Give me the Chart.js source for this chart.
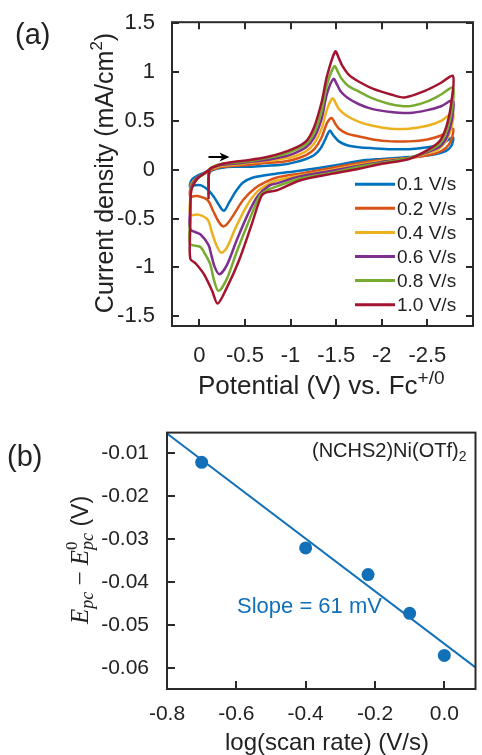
<!DOCTYPE html>
<html>
<head>
<meta charset="utf-8">
<script src="https://cdn.jsdelivr.net/npm/chart.js@4.4.1/dist/chart.umd.min.js"></script>
<style>
html, body { margin: 0; padding: 0; background: #fff; }
body { width: 482px; height: 755px; position: relative; overflow: hidden; }
canvas { position: absolute; left: 0; }
#cvChart { top: 0; width: 482px; height: 410px; }
#slopeChart { top: 410px; width: 482px; height: 345px; }
</style>
</head>
<body>
<canvas id="cvChart" width="482" height="410"></canvas>
<canvas id="slopeChart" width="482" height="345"></canvas>
<script>
// ---- panel (a): cyclic voltammograms, [potential V, current density mA/cm2] ----
const rateLabels = ['0.1 V/s', '0.2 V/s', '0.4 V/s', '0.6 V/s', '0.8 V/s', '1.0 V/s'];
const rateColors = ['#0072BD', '#D95319', '#EDB120', '#7E2F8E', '#77AC30', '#A2142F'];

const cv01 = [[-0.10,-0.10],[-0.11,-0.03],[-0.16,0.00],[-0.25,0.02],[-0.37,0.03],[-0.55,0.03],[-0.74,0.04],[-0.90,0.05],[-1.02,0.07],[-1.17,0.11],[-1.26,0.15],[-1.33,0.22],[-1.38,0.31],[-1.43,0.40],[-1.47,0.35],[-1.53,0.29],[-1.62,0.25],[-1.75,0.23],[-1.90,0.22],[-2.10,0.21],[-2.30,0.21],[-2.50,0.23],[-2.65,0.26],[-2.78,0.33],
  [-2.76,0.24],[-2.70,0.19],[-2.60,0.16],[-2.45,0.14],[-2.30,0.13],[-2.00,0.11],[-1.75,0.09],[-1.46,0.04],[-1.10,-0.01],[-0.85,-0.04],[-0.70,-0.06],[-0.59,-0.08],[-0.48,-0.13],[-0.40,-0.22],[-0.33,-0.33],[-0.27,-0.42],[-0.22,-0.37],[-0.16,-0.28],[-0.10,-0.21],[-0.02,-0.16],[0.05,-0.16],[0.10,-0.18],
  [0.10,-0.14],[0.08,-0.10],[0.02,-0.06],[-0.06,-0.03],[-0.14,0.00]];
const cv02 = [[-0.10,-0.14],[-0.11,-0.02],[-0.17,0.01],[-0.25,0.03],[-0.37,0.04],[-0.55,0.05],[-0.74,0.07],[-0.90,0.08],[-1.02,0.10],[-1.17,0.15],[-1.26,0.21],[-1.34,0.33],[-1.40,0.48],[-1.45,0.53],[-1.49,0.47],[-1.53,0.42],[-1.62,0.37],[-1.75,0.34],[-1.90,0.31],[-2.10,0.29],[-2.30,0.29],[-2.50,0.31],[-2.65,0.35],[-2.78,0.42],
  [-2.76,0.30],[-2.70,0.22],[-2.60,0.17],[-2.45,0.14],[-2.30,0.12],[-2.00,0.10],[-1.75,0.07],[-1.46,0.02],[-1.10,-0.04],[-0.85,-0.08],[-0.74,-0.12],[-0.61,-0.19],[-0.48,-0.31],[-0.37,-0.47],[-0.30,-0.56],[-0.26,-0.58],[-0.21,-0.53],[-0.15,-0.42],[-0.09,-0.31],[0.02,-0.27],[0.10,-0.27],
  [0.10,-0.20],[0.08,-0.13],[0.02,-0.08],[-0.06,-0.04],[-0.14,0.00]];
const cv04 = [[-0.10,-0.18],[-0.11,-0.01],[-0.17,0.02],[-0.25,0.04],[-0.37,0.05],[-0.55,0.07],[-0.74,0.09],[-0.90,0.11],[-1.02,0.13],[-1.17,0.19],[-1.26,0.27],[-1.34,0.42],[-1.40,0.62],[-1.46,0.73],[-1.50,0.67],[-1.53,0.62],[-1.62,0.55],[-1.75,0.49],[-1.90,0.45],[-2.10,0.42],[-2.30,0.42],[-2.50,0.45],[-2.65,0.50],[-2.78,0.58],
  [-2.76,0.42],[-2.70,0.29],[-2.62,0.21],[-2.50,0.17],[-2.30,0.12],[-2.00,0.09],[-1.75,0.05],[-1.46,0.00],[-1.10,-0.06],[-0.85,-0.11],[-0.77,-0.14],[-0.64,-0.22],[-0.52,-0.37],[-0.39,-0.61],[-0.30,-0.80],[-0.24,-0.85],[-0.19,-0.78],[-0.14,-0.65],[-0.09,-0.51],[0.01,-0.46],[0.10,-0.46],
  [0.10,-0.30],[0.09,-0.16],[0.03,-0.09],[-0.05,-0.04],[-0.14,0.01]];
const cv06 = [[-0.10,-0.22],[-0.11,0.00],[-0.17,0.03],[-0.25,0.05],[-0.37,0.06],[-0.55,0.08],[-0.74,0.10],[-0.90,0.13],[-1.02,0.16],[-1.17,0.23],[-1.26,0.33],[-1.34,0.52],[-1.40,0.78],[-1.47,0.93],[-1.51,0.87],[-1.55,0.80],[-1.62,0.74],[-1.75,0.67],[-1.90,0.62],[-2.10,0.59],[-2.30,0.58],[-2.50,0.61],[-2.65,0.65],[-2.78,0.71],
  [-2.77,0.52],[-2.72,0.35],[-2.64,0.24],[-2.50,0.18],[-2.30,0.12],[-2.00,0.08],[-1.75,0.04],[-1.46,-0.01],[-1.10,-0.07],[-0.85,-0.14],[-0.77,-0.16],[-0.64,-0.27],[-0.53,-0.46],[-0.41,-0.72],[-0.30,-0.98],[-0.22,-1.07],[-0.17,-1.00],[-0.13,-0.87],[-0.10,-0.77],[-0.01,-0.66],[0.10,-0.61],
  [0.10,-0.40],[0.09,-0.18],[0.03,-0.09],[-0.05,-0.04],[-0.14,0.02]];
const cv08 = [[-0.10,-0.26],[-0.11,0.00],[-0.17,0.04],[-0.25,0.06],[-0.37,0.07],[-0.55,0.09],[-0.74,0.12],[-0.90,0.15],[-1.02,0.19],[-1.17,0.26],[-1.26,0.38],[-1.34,0.60],[-1.40,0.87],[-1.48,1.06],[-1.52,1.00],[-1.56,0.93],[-1.63,0.86],[-1.75,0.80],[-1.90,0.73],[-2.10,0.67],[-2.30,0.65],[-2.50,0.70],[-2.65,0.77],[-2.78,0.84],
  [-2.77,0.62],[-2.72,0.42],[-2.64,0.27],[-2.50,0.19],[-2.30,0.12],[-2.00,0.07],[-1.75,0.03],[-1.46,-0.03],[-1.10,-0.09],[-0.85,-0.17],[-0.74,-0.21],[-0.66,-0.27],[-0.55,-0.51],[-0.41,-0.84],[-0.30,-1.12],[-0.21,-1.24],[-0.16,-1.13],[-0.12,-0.97],[-0.06,-0.86],[-0.01,-0.79],[0.10,-0.76],
  [0.10,-0.50],[0.09,-0.20],[0.03,-0.10],[-0.05,-0.04],[-0.14,0.02]];
const cv10 = [[-0.10,-0.30],[-0.11,0.00],[-0.16,0.03],[-0.25,0.06],[-0.37,0.08],[-0.55,0.10],[-0.74,0.13],[-0.90,0.17],[-1.02,0.21],[-1.17,0.29],[-1.26,0.44],[-1.34,0.69],[-1.40,0.96],[-1.49,1.21],[-1.53,1.14],[-1.57,1.06],[-1.64,0.97],[-1.75,0.90],[-1.90,0.83],[-2.10,0.77],[-2.25,0.74],[-2.48,0.81],[-2.65,0.89],[-2.78,0.96],
  [-2.77,0.74],[-2.72,0.48],[-2.64,0.30],[-2.50,0.20],[-2.30,0.11],[-2.00,0.06],[-1.75,0.01],[-1.46,-0.04],[-1.10,-0.11],[-0.85,-0.21],[-0.74,-0.23],[-0.68,-0.27],[-0.57,-0.57],[-0.43,-0.94],[-0.30,-1.21],[-0.20,-1.37],[-0.14,-1.24],[-0.05,-1.07],[0.04,-0.96],[0.10,-0.91],
  [0.10,-0.60],[0.09,-0.22],[0.03,-0.10],[-0.05,-0.04],[-0.14,0.02]];
const cvSeries = [cv01, cv02, cv04, cv06, cv08, cv10];

const potentialTicks = [0, -0.5, -1, -1.5, -2, -2.5];
const currentTicks = [1.5, 1, 0.5, 0, -0.5, -1, -1.5];
const scanArrow = [[-0.10, 0.13], [-0.33, 0.13]];

// ---- panel (b): peak shift vs log(scan rate) ----
const logRate = [-0.7, -0.4, -0.22, -0.1, 0.0];
const peakShift = [-0.0121, -0.032, -0.0382, -0.0472, -0.057];
const fitX = [-0.8, 0.09];
const fitY = [-0.0054, -0.0598];
const logTicks = [-0.8, -0.6, -0.4, -0.2, 0.0];
const shiftTicks = [-0.01, -0.02, -0.03, -0.04, -0.05, -0.06];

const SANS = "'Liberation Sans', Arial, sans-serif";
const SERIF = "'Liberation Serif', 'DejaVu Serif', serif";
const INK = '#222';
const AXIS = '#2a2a2a';
const BLUE = '#1270b8';

function runsWidth(ctx, runs) {
  let w = 0;
  runs.forEach(r => { ctx.font = r.f; if (!r.stack) w += ctx.measureText(r.t).width; });
  return w;
}
function drawRuns(ctx, runs, x, y) {
  let cx = x;
  runs.forEach(r => {
    ctx.font = r.f;
    ctx.fillText(r.t, cx, y + (r.dy || 0));
    if (!r.stack) cx += ctx.measureText(r.t).width;
  });
}

// box round the plot with inward tick marks
function framePlugin(tickLen, mirror) {
  return {
    id: 'frame',
    afterDatasetsDraw(chart) {
      const { ctx, chartArea: a, scales } = chart;
      ctx.save();
      ctx.strokeStyle = AXIS;
      ctx.lineWidth = 2;
      ctx.beginPath();
      scales.x.ticks.forEach(t => {
        const px = Math.round(scales.x.getPixelForValue(t.value));
        ctx.moveTo(px, a.bottom); ctx.lineTo(px, a.bottom - tickLen);
        if (mirror) { ctx.moveTo(px, a.top); ctx.lineTo(px, a.top + tickLen); }
      });
      scales.y.ticks.forEach(t => {
        const py = Math.round(scales.y.getPixelForValue(t.value));
        ctx.moveTo(a.left, py); ctx.lineTo(a.left + tickLen, py);
        if (mirror) { ctx.moveTo(a.right, py); ctx.lineTo(a.right - tickLen, py); }
      });
      ctx.stroke();
      ctx.strokeRect(a.left, a.top, a.right - a.left, a.bottom - a.top);
      ctx.restore();
    }
  };
}

const cvDecor = {
  id: 'cvDecor',
  afterDraw(chart) {
    const { ctx, chartArea: a, scales: { x, y } } = chart;
    ctx.save();
    ctx.fillStyle = INK;
    ctx.textAlign = 'left';
    ctx.textBaseline = 'alphabetic';
    ctx.font = `29px ${SANS}`;
    ctx.fillText('(a)', 15, 44);

    // axis titles
    const xRuns = [{ t: 'Potential (V) vs. Fc', f: `26px ${SANS}` }, { t: '+/0', f: `19px ${SANS}`, dy: -10 }];
    drawRuns(ctx, xRuns, 198, 394);
    const yRuns = [{ t: 'Current density (mA/cm', f: `25px ${SANS}` }, { t: '2', f: `17px ${SANS}`, dy: -11 }, { t: ')', f: `25px ${SANS}` }];
    ctx.save();
    ctx.translate(113, 173);
    ctx.rotate(-Math.PI / 2);
    drawRuns(ctx, yRuns, -runsWidth(ctx, yRuns) / 2, 0);
    ctx.restore();

    // legend inside the plot
    ctx.textBaseline = 'middle';
    ctx.font = `19px ${SANS}`;
    chart.data.datasets.forEach((ds, i) => {
      const ly = a.top + 162 + i * 24.1;
      ctx.strokeStyle = ds.borderColor;
      ctx.lineWidth = 3;
      ctx.beginPath();
      ctx.moveTo(a.right - 118, ly);
      ctx.lineTo(a.right - 78, ly);
      ctx.stroke();
      ctx.fillText(ds.label, a.right - 76, ly + 1);
    });

    // scan direction arrow
    const x0 = x.getPixelForValue(scanArrow[0][0]), y0 = y.getPixelForValue(scanArrow[0][1]);
    const x1 = x.getPixelForValue(scanArrow[1][0]), y1 = y.getPixelForValue(scanArrow[1][1]);
    ctx.strokeStyle = '#000';
    ctx.fillStyle = '#000';
    ctx.lineWidth = 2;
    ctx.beginPath();
    ctx.moveTo(x0, y0); ctx.lineTo(x1 - 6, y1);
    ctx.stroke();
    ctx.beginPath();
    ctx.moveTo(x1, y1); ctx.lineTo(x1 - 10, y1 - 4.5); ctx.lineTo(x1 - 7, y1); ctx.lineTo(x1 - 10, y1 + 4.5);
    ctx.closePath();
    ctx.fill();
    ctx.restore();
  }
};

new Chart(document.getElementById('cvChart'), {
  type: 'scatter',
  data: {
    datasets: cvSeries.map((s, i) => ({
      label: rateLabels[i],
      data: s.map(p => ({ x: p[0], y: p[1] })),
      showLine: true,
      borderColor: rateColors[i],
      backgroundColor: rateColors[i],
      borderWidth: 2.5,
      pointRadius: 0,
      tension: 0.3,
      order: cvSeries.length - i
    }))
  },
  options: {
    responsive: false,
    animation: false,
    devicePixelRatio: 1,
    events: [],
    layout: { padding: { left: 0, right: 9, top: 15, bottom: 0 } },
    plugins: { legend: { display: false }, tooltip: { enabled: false } },
    scales: {
      x: {
        type: 'linear', reverse: true, min: -3.0, max: 0.3,
        afterBuildTicks: axis => { axis.ticks = potentialTicks.map(v => ({ value: v })); },
        afterFit: axis => { axis.height = 84; },
        grid: { display: false }, border: { display: false },
        ticks: { color: INK, font: { family: SANS, size: 22 }, padding: 9, maxRotation: 0, autoSkip: false, callback: v => String(v) }
      },
      y: {
        type: 'linear', min: -1.6, max: 1.51,
        afterBuildTicks: axis => { axis.ticks = currentTicks.map(v => ({ value: v })); },
        afterFit: axis => { axis.width = 172; },
        grid: { display: false }, border: { display: false },
        ticks: { color: INK, font: { family: SANS, size: 22 }, padding: 9, autoSkip: false, callback: v => String(v) }
      }
    }
  },
  plugins: [framePlugin(7, true), cvDecor]
});

const slopeDecor = {
  id: 'slopeDecor',
  afterDraw(chart) {
    const { ctx } = chart;
    ctx.save();
    ctx.fillStyle = INK;
    ctx.textAlign = 'left';
    ctx.textBaseline = 'alphabetic';
    ctx.font = `29px ${SANS}`;
    ctx.fillText('(b)', 7, 56);

    drawRuns(ctx, [{ t: '(NCHS2)Ni(OTf)', f: `20px ${SANS}` }, { t: '2', f: `14px ${SANS}`, dy: 4 }], 312, 46.5);

    ctx.fillStyle = BLUE;
    ctx.font = `22px ${SANS}`;
    ctx.fillText('Slope = 61 mV', 237, 203);

    ctx.fillStyle = INK;
    ctx.textAlign = 'center';
    ctx.font = `24px ${SANS}`;
    ctx.fillText('log(scan rate) (V/s)', 327, 339.5);
    ctx.textAlign = 'left';

    const yRuns = [
      { t: 'E', f: `italic 25px ${SERIF}` },
      { t: 'pc', f: `italic 18px ${SERIF}`, dy: 5 },
      { t: ' \u2212 ', f: `25px ${SERIF}` },
      { t: 'E', f: `italic 25px ${SERIF}` },
      { t: '0', f: `17px ${SERIF}`, dy: -11, stack: true },
      { t: 'pc', f: `italic 18px ${SERIF}`, dy: 5 },
      { t: ' (V)', f: `23px ${SANS}` }
    ];
    ctx.save();
    ctx.translate(88, 150);
    ctx.rotate(-Math.PI / 2);
    drawRuns(ctx, yRuns, -runsWidth(ctx, yRuns) / 2, 0);
    ctx.restore();
    ctx.restore();
  }
};

new Chart(document.getElementById('slopeChart'), {
  type: 'scatter',
  data: {
    datasets: [
      {
        label: 'data',
        data: logRate.map((v, i) => ({ x: v, y: peakShift[i] })),
        pointRadius: 6.5,
        pointBackgroundColor: BLUE,
        pointBorderWidth: 0,
        showLine: false,
        order: 1
      },
      {
        label: 'fit',
        data: fitX.map((v, i) => ({ x: v, y: fitY[i] })),
        showLine: true,
        borderColor: BLUE,
        borderWidth: 2,
        pointRadius: 0,
        order: 2
      }
    ]
  },
  options: {
    responsive: false,
    animation: false,
    devicePixelRatio: 1,
    events: [],
    layout: { padding: { left: 0, right: 1, top: 19, bottom: 0 } },
    plugins: { legend: { display: false }, tooltip: { enabled: false } },
    scales: {
      x: {
        type: 'linear', min: -0.8, max: 0.09,
        afterBuildTicks: axis => { axis.ticks = logTicks.map(v => ({ value: v })); },
        afterFit: axis => { axis.height = 66; },
        grid: { display: false }, border: { display: false },
        ticks: { color: INK, font: { family: SANS, size: 21 }, padding: 5, maxRotation: 0, autoSkip: false, callback: v => v.toFixed(1) }
      },
      y: {
        type: 'linear', min: -0.0648, max: -0.0052,
        afterBuildTicks: axis => { axis.ticks = shiftTicks.map(v => ({ value: v })); },
        afterFit: axis => { axis.width = 167; },
        grid: { display: false }, border: { display: false },
        ticks: { color: INK, font: { family: SANS, size: 21 }, padding: 10, autoSkip: false, callback: v => v.toFixed(2) }
      }
    }
  },
  plugins: [framePlugin(8, false), slopeDecor]
});
</script>
</body>
</html>
